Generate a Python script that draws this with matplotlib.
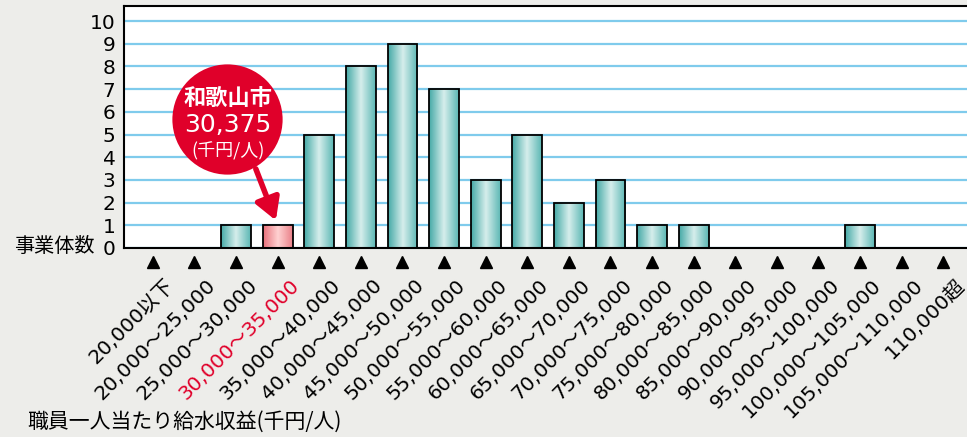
import numpy as np
import matplotlib
matplotlib.use("Agg")
import matplotlib.pyplot as plt
from matplotlib.colors import LinearSegmentedColormap

plt.rcParams["font.family"] = ["Noto Sans CJK JP", "DejaVu Sans"]
LATIN = ["DejaVu Sans", "Noto Sans CJK JP"]

categories = [
    "20,000以下", "20,000～25,000", "25,000～30,000", "30,000～35,000",
    "35,000～40,000", "40,000～45,000", "45,000～50,000", "50,000～55,000",
    "55,000～60,000", "60,000～65,000", "65,000～70,000", "70,000～75,000",
    "75,000～80,000", "80,000～85,000", "85,000～90,000", "90,000～95,000",
    "95,000～100,000", "100,000～105,000", "105,000～110,000", "110,000超",
]
counts = [0, 0, 1, 1, 5, 8, 9, 7, 3, 5, 2, 3, 1, 1, 0, 0, 0, 1, 0, 0]
highlight = 3
callout_lines = ["和歌山市", "30,375", "(千円/人)"]

BG = "#ededea"
RED = "#e0002a"
teal = LinearSegmentedColormap.from_list("teal", ["#46aaa7", "#d6eeec", "#5cb7b4"])
pink = LinearSegmentedColormap.from_list("pink", ["#e8707a", "#ffd2d2", "#ea8088"])


def main() -> None:
    fig = plt.figure(figsize=(9.67, 4.37), dpi=100, facecolor=BG)
    ax = fig.add_axes([0.128, 0.4325, 0.872, 0.5535])
    ax.set_facecolor("white")

    x = np.arange(len(categories))
    ax.set_yticks(range(11))
    ax.yaxis.grid(True, color="#7fcbec", lw=1.6)
    ax.set_axisbelow(True)
    ax.tick_params(axis="y", length=0, labelsize=14.5, pad=6)
    for t in ax.get_yticklabels():
        t.set_family(LATIN)
    ax.tick_params(axis="x", length=0, labelbottom=False)
    for side in ["left", "top", "bottom"]:
        ax.spines[side].set_linewidth(1.5)
    ax.spines["right"].set_visible(False)

    grad = np.linspace(0, 1, 64).reshape(1, -1)
    width = 0.72
    bars = ax.bar(x, counts, width=width, facecolor="none", edgecolor="black", lw=1.3, zorder=3)
    for i, (b, c) in enumerate(zip(bars, counts)):
        if c == 0:
            continue
        im = ax.imshow(grad, extent=[i - width / 2, i + width / 2, 0, c], aspect="auto",
                       cmap=pink if i == highlight else teal, zorder=2)
        im.set_clip_path(b)
    ax.set_xlim(-0.7, 19.57)
    ax.set_ylim(0, 10.66)

    tr = ax.get_xaxis_transform()
    ax.plot(x, [-0.058] * len(x), "^", color="black", ms=9, transform=tr, clip_on=False)
    for i, lab in enumerate(categories):
        ax.text(i + 0.28, -0.115, lab, rotation=45, ha="right", va="top",
                rotation_mode="anchor", transform=tr, fontsize=14.5, family=LATIN,
                color=RED if i == highlight else "black")

    fig.text(95 / 967, 1 - 247 / 437, "事業体数", ha="right", va="center", fontsize=14.5)
    fig.text(27 / 967, 1 - 422 / 437, "職員一人当たり給水収益(千円/人)", ha="left",
             va="center", fontsize=15)

    # callout
    ax.scatter([1.77], [5.68], s=6300, color=RED, zorder=5, clip_on=False, lw=0)
    ax.annotate("", xy=(2.98, 1.1), xytext=(2.45, 3.6),
                arrowprops=dict(arrowstyle="-|>,head_width=0.75,head_length=1.3",
                                color=RED, lw=4), zorder=5)
    ax.text(1.8, 6.55, callout_lines[0], color="white", ha="center", va="center",
            fontsize=16, fontweight="bold", zorder=6)
    ax.text(1.8, 5.42, callout_lines[1], color="white", ha="center", va="center",
            fontsize=18, family=LATIN, zorder=6)
    ax.text(1.8, 4.27, callout_lines[2], color="white", ha="center", va="center",
            fontsize=13, zorder=6)

    fig.savefig("out.png", dpi=100, facecolor=BG)


if __name__ == "__main__":
    main()
